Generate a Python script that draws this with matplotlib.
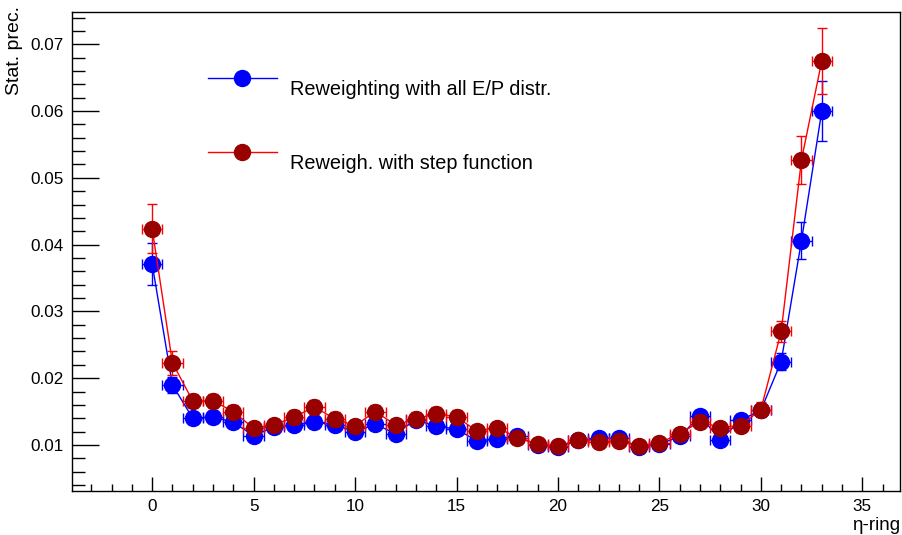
import matplotlib
matplotlib.use("Agg")
import matplotlib.pyplot as plt
from matplotlib.lines import Line2D
from matplotlib.ticker import MultipleLocator, FuncFormatter

plt.rcParams['font.family'] = ['Liberation Sans', 'DejaVu Sans']

eta_ring = list(range(34))

prec_all_ep = [0.0371, 0.0190, 0.0140, 0.0142, 0.0134, 0.0114, 0.0127, 0.0130, 0.0134, 0.0130,
               0.0120, 0.0131, 0.0117, 0.0138, 0.0128, 0.0124, 0.0106, 0.0109, 0.0113, 0.0100,
               0.0097, 0.0107, 0.0110, 0.0110, 0.0097, 0.0101, 0.0113, 0.0143, 0.0108, 0.0137,
               0.0152, 0.0225, 0.0406, 0.0600]
err_all_ep = [0.0031, 0.0012, 0.0009, 0.0009, 0.0009, 0.0008, 0.0008, 0.0008, 0.0009, 0.0008,
              0.0008, 0.0008, 0.0008, 0.0008, 0.0008, 0.0008, 0.0007, 0.0007, 0.0007, 0.0007,
              0.0007, 0.0007, 0.0007, 0.0007, 0.0007, 0.0007, 0.0007, 0.0009, 0.0007, 0.0009,
              0.0009, 0.0012, 0.0028, 0.0045]

prec_step = [0.0424, 0.0223, 0.0166, 0.0166, 0.0150, 0.0125, 0.0130, 0.0142, 0.0157, 0.0139,
             0.0129, 0.0150, 0.0130, 0.0139, 0.0147, 0.0142, 0.0121, 0.0126, 0.0111, 0.0101,
             0.0098, 0.0108, 0.0105, 0.0106, 0.0098, 0.0103, 0.0117, 0.0135, 0.0126, 0.0129,
             0.0153, 0.0270, 0.0527, 0.0675]
err_step = [0.0037, 0.0018, 0.0011, 0.0011, 0.0010, 0.0009, 0.0009, 0.0010, 0.0011, 0.0010,
            0.0009, 0.0010, 0.0009, 0.0010, 0.0010, 0.0010, 0.0009, 0.0009, 0.0008, 0.0008,
            0.0008, 0.0008, 0.0008, 0.0008, 0.0008, 0.0008, 0.0009, 0.0010, 0.0009, 0.0009,
            0.0011, 0.0016, 0.0036, 0.0050]

x_half_width = 0.5

label_all = "Reweighting with all E/P distr."
label_step = "Reweigh. with step function"

fig = plt.figure(figsize=(9.03, 5.35), dpi=100)
ax = fig.add_axes([72/903, 1-491/535, (900.5-72)/903, (491-11.7)/535])

ax.errorbar(eta_ring, prec_all_ep, yerr=err_all_ep, xerr=x_half_width, fmt='-o',
            color='#0000ff', ecolor='#0000ff', mfc='#0000ff', mec='#0000ff',
            markersize=11.5, lw=1.0, elinewidth=1.0, capsize=3.8, capthick=1.0, zorder=3)
ax.errorbar(eta_ring, prec_step, yerr=err_step, xerr=x_half_width, fmt='-o',
            color='#ff0000', ecolor='#ff0000', mfc='#990000', mec='#990000',
            markersize=11.5, lw=1.0, elinewidth=1.0, capsize=3.8, capthick=1.0, zorder=4)

ax.set_xlim(-3.95, 36.88)
ax.set_ylim(0.00311, 0.07488)

ax.xaxis.set_major_locator(MultipleLocator(5))
ax.xaxis.set_minor_locator(MultipleLocator(1))
ax.yaxis.set_major_locator(MultipleLocator(0.01))
ax.yaxis.set_minor_locator(MultipleLocator(0.002))
ax.yaxis.set_major_formatter(FuncFormatter(lambda v, p: f"{v:.2f}"))

ax.tick_params(axis='x', which='major', direction='in', length=10, width=1, labelsize=12.3, pad=6)
ax.tick_params(axis='x', which='minor', direction='in', length=5, width=1)
ax.tick_params(axis='y', which='major', direction='in', length=19.5, width=1, labelsize=12.3, pad=6)
ax.tick_params(axis='y', which='minor', direction='in', length=9.7, width=1)
ax.tick_params(top=False, right=False, which='both')
for s in ax.spines.values():
    s.set_linewidth(1.0)

ax.set_xlabel("η-ring", fontsize=13.5, loc='right', labelpad=2)
ax.set_ylabel("Stat. prec.", fontsize=14, loc='top')
ax.yaxis.set_label_coords(-0.059, 1.012)

handles = [
    Line2D([], [], color='#0000ff', marker='o', mfc='#0000ff', mec='#0000ff', markersize=11.5, lw=1.0),
    Line2D([], [], color='#ff0000', marker='o', mfc='#990000', mec='#990000', markersize=11.5, lw=1.0),
]
leg = ax.legend(handles, [label_all, label_step], loc='upper left', bbox_to_anchor=(0.164, 0.879),
                frameon=False, fontsize=14.3, handlelength=3.47, handletextpad=0.65, labelspacing=2.8,
                borderaxespad=0, borderpad=0)
for t in leg.get_texts():
    t.set_y(-10)

fig.savefig("out.png", dpi=100)
